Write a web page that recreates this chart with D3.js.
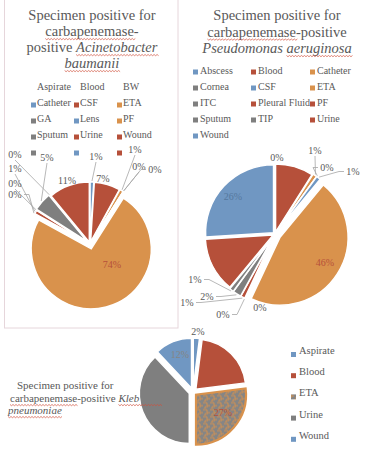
<!DOCTYPE html>
<html>
<head>
<meta charset="utf-8">
<script src="https://cdn.jsdelivr.net/npm/d3@7"></script>
<style>
  body { margin: 0; background: #fff; }
  svg text { fill: #595959; }
</style>
</head>
<body>
<svg id="chart" width="370" height="452" font-family="'Liberation Serif', 'Times New Roman', 'DejaVu Serif', serif"></svg>
<script>
// ---- data (percent of positive specimens) ----
const acinetoCategories = ["Aspirate", "Blood", "BW", "Catheter", "CSF", "ETA", "GA", "Lens", "PF", "Sputum", "Urine", "Wound"];
const acinetoValues = [1, 7, 1, 0, 0, 74, 0, 1, 0, 5, 0, 11];

const pseudoCategories = ["Abscess", "Blood", "Catheter", "Cornea", "CSF", "ETA", "ITC", "Pleural Fluid", "PF", "Sputum", "TIP", "Urine", "Wound"];
const pseudoValues = [0, 9, 1, 0, 1, 46, 0, 0, 1, 2, 1, 13, 26];

const klebCategories = ["Aspirate", "Blood", "ETA", "Urine", "Wound"];
const klebValues = [2, 21, 27, 38, 12];

// ---- styles ----
const blue = "#7097c2", red = "#b6503a", orange = "#d9924c", gray = "#7f7f7f";
const acinetoColor = d3.scaleOrdinal(acinetoCategories,
  [blue, red, orange, gray, blue, orange, gray, red, red, gray, blue, red]);
const pseudoColor = d3.scaleOrdinal(pseudoCategories,
  [blue, red, orange, gray, blue, orange, gray, red, red, gray, gray, red, blue]);
const klebColor = d3.scaleOrdinal(klebCategories,
  [blue, red, "url(#etaFill)", gray, blue]);

const FONT = "'Liberation Serif', 'Times New Roman', 'DejaVu Serif', serif";
const svg = d3.select("#chart");

// scanned orange/grey texture on the ETA slice
const pat = svg.append("defs").append("pattern")
  .attr("id", "etaFill").attr("patternUnits", "userSpaceOnUse")
  .attr("width", 7).attr("height", 7);
pat.append("rect").attr("width", 7).attr("height", 7).attr("fill", "#858585");
pat.append("path").attr("d", "M0,1 H4 V4 H7 M2,7 V5 H5")
  .attr("stroke", orange).attr("stroke-width", 0.9).attr("fill", "none");

// panel frame of the first chart
svg.append("rect").attr("x", 4.5).attr("y", -2).attr("width", 173.5).attr("height", 330)
  .attr("fill", "none").attr("stroke", "#e6d6db");

// title lines with red spell-check squiggles
function title(lines, opt) {
  lines.forEach((segs, li) => {
    const t = svg.append("text")
      .attr("x", opt.x[li] !== undefined ? opt.x[li] : opt.x)
      .attr("y", opt.y[li])
      .attr("text-anchor", opt.anchor)
      .style("font-family", FONT)
      .style("font-size", opt.size + "px");
    const spans = segs.map(s => t.append("tspan").text(s.t)
      .style("font-style", s.it ? "italic" : "normal"));
    segs.forEach((s, i) => {
      if (!s.wavy) return;
      const node = spans[i].node();
      const x0 = node.getStartPositionOfChar(0).x;
      const len = node.getComputedTextLength() + (s.extra || 0);
      const y = opt.y[li] + 2.5;
      let d = `M${x0},${y}`;
      for (let x = x0, k = 0; x < x0 + len; x += 1.5, k++) d += `L${x + 1.5},${y + (k % 2 ? 0 : 1.2)}`;
      svg.append("path").attr("d", d).attr("fill", "none")
        .attr("stroke", "#d0503c").attr("stroke-width", 0.7);
    });
  });
}

function legend(cats, color, o) {
  cats.forEach((c, i) => {
    const col = i % o.cols, row = Math.floor(i / o.cols);
    const x = o.x[col], y = o.y0 + row * o.dy;
    svg.append("rect").attr("x", x - o.mx).attr("y", y + o.my)
      .attr("width", 5).attr("height", 5).attr("fill", color(c));
    svg.append("text").attr("x", x).attr("y", y)
      .style("font-family", FONT)
      .style("font-size", o.size + "px").text(c);
  });
}

function pie(cats, vals, color, o) {
  const arcs = d3.pie().value(d => d).sort(null)(vals);
  const arc = d3.arc().innerRadius(0).outerRadius(o.r);
  const off = (d, e) => {
    const a = (d.startAngle + d.endAngle) / 2;
    return [Math.sin(a) * e, -Math.cos(a) * e];
  };
  const g = svg.append("g").attr("transform", `translate(${o.cx},${o.cy})`);
  g.selectAll("path").data(arcs).join("path")
    .attr("d", arc)
    .attr("fill", (d, i) => color(cats[i]))
    .attr("stroke", (d, i) => o.strokes && o.strokes[i] ? o.strokes[i] : "#fff")
    .attr("stroke-width", (d, i) => o.strokes && o.strokes[i] ? 2.2 : 1.5)
    .attr("transform", (d, i) => `translate(${off(d, o.explode[i])})`);

  const pct = d3.format(".0%");
  const total = d3.sum(vals);
  arcs.forEach((d, i) => {
    const p = o.labels[i];
    if (!p) return;
    let lx, ly;
    if (p === "in") {
      const c = d3.arc().innerRadius(o.r * 0.55).outerRadius(o.r * 0.55).centroid(d);
      lx = o.cx + c[0]; ly = o.cy + c[1] + 3.5;
    } else { lx = p[0]; ly = p[1]; }
    const [ox, oy] = off(d, o.explode[i]);
    const a = (d.startAngle + d.endAngle) / 2;
    const ex = o.cx + ox + Math.sin(a) * (o.r + 1), ey = o.cy + oy - Math.cos(a) * (o.r + 1);
    const dist = Math.hypot(lx - o.cx, ly - 3 - o.cy);
    if (p !== "in" && dist > o.r + 14) {
      const dx = ex - lx, dy = ey - (ly - 3.5);
      const sx = Math.abs(dx) > Math.abs(dy) ? lx + Math.sign(dx) * 9 : lx;
      const sy = Math.abs(dx) > Math.abs(dy) ? ly - 3.5 : ly + (dy > 0 ? 2 : -10);
      const mx = Math.abs(dx) > Math.abs(dy) ? sx + Math.sign(dx) * 5 : sx;
      svg.append("path").attr("d", `M${sx},${sy}L${mx},${sy}L${ex},${ey}`)
        .attr("fill", "none").attr("stroke", "#a6a6a6").attr("stroke-width", 0.8);
    }
    svg.append("text").attr("x", lx).attr("y", ly).attr("text-anchor", "middle")
      .style("font-family", FONT)
      .style("font-size", "10px")
      .style("fill", o.labelColor[i] || "#595959")
      .text(pct(vals[i] / total));
  });
}

// ---- chart 1: Acinetobacter baumanii ----
title([
  [{ t: "Specimen positive for" }],
  [{ t: "carbapenemase", wavy: true }, { t: "-" }],
  [{ t: "positive " }, { t: "Acinetobacter", it: true, wavy: true }],
  [{ t: "baumanii", it: true, wavy: true }]
], { x: 92, y: [20, 36, 52, 68], anchor: "middle", size: 14.5 });

legend(acinetoCategories, acinetoColor,
  { cols: 3, x: [37, 80, 123], y0: 89.5, dy: 16, mx: 6, my: 13, size: 10 });

pie(acinetoCategories, acinetoValues, acinetoColor, {
  cx: 90, cy: 244, r: 60,
  explode: [2, 2, 2, 2, 2, 5, 3, 3, 3, 4, 3, 2],
  labels: [[96, 160], [103, 182], [135, 153], [139, 170], [155, 173], [112, 268],
           [15, 198], [15, 172], [15, 187], [47, 161], [15, 158], [67, 184]],
  labelColor: { 5: red }
});

// ---- chart 2: Pseudomonas aeruginosa ----
title([
  [{ t: "Specimen positive for" }],
  [{ t: "carbapenemase", wavy: true }, { t: "-positive" }],
  [{ t: "Pseudomonas ", it: true }, { t: "aeruginosa", it: true, wavy: true }]
], { x: 277, y: [20, 36.5, 53], anchor: "middle", size: 14.5 });

legend(pseudoCategories, pseudoColor,
  { cols: 3, x: [200, 258, 317], y0: 73.5, dy: 16, mx: 7, my: -4, size: 10 });

pie(pseudoCategories, pseudoValues, pseudoColor, {
  cx: 275, cy: 234, r: 68,
  explode: [2, 2, 3, 3, 3, 6, 3, 3, 3, 3, 3, 2, 2],
  labels: [[277, 161], "in", [315, 154], [327, 171], [353, 175], [325, 266],
           [260, 311], [223, 318], [187, 306], [207, 300], [195, 283], "in", [233, 200]],
  labelColor: { 1: red, 5: red, 11: red, 12: "#55779e" }
});

// ---- chart 3: Klebsiella pneumoniae ----
pie(klebCategories, klebValues, klebColor, {
  cx: 193, cy: 392, r: 50,
  explode: [4, 4, 4, 4, 4],
  strokes: [null, null, orange, null, null],
  labels: [[198, 335], "in", [223, 416], "in", [180, 358]],
  labelColor: { 1: red, 2: red, 3: gray, 4: "#858585" }
});

title([
  [{ t: "Specimen positive for" }],
  [{ t: "carbapenemase", wavy: true }, { t: "-positive " }, { t: "Kleb", it: true, wavy: true, extra: 22 }],
  [{ t: "pneumoniae", it: true, wavy: true }]
], { x: [17, 10, 8], y: [389, 402, 414], anchor: "start", size: 11 });

legend(klebCategories, klebColor,
  { cols: 1, x: [299], y0: 354, dy: 21.2, mx: 8, my: -2, size: 10.5 });
</script>
</body>
</html>
